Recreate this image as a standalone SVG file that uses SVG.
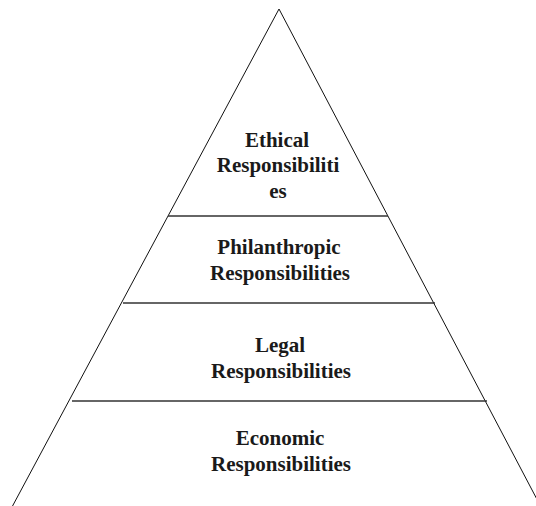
<svg xmlns="http://www.w3.org/2000/svg" width="536" height="506" viewBox="0 0 536 506">
<style>
.edge{fill:none;stroke:#111;stroke-width:1}
.div{stroke:#333;stroke-width:1.6}
.t{font-family:"Liberation Serif","Times New Roman",serif;font-weight:bold;font-size:21px;fill:#1a1a1a;text-anchor:middle}
</style>
<rect width="536" height="506" fill="#fff"/>
<g id="outline">
<polyline class="edge" points="12,507 279,9 541,507"/>
</g>
<g id="connectors">
<line class="div" x1="168" y1="216" x2="388" y2="216"/>
<line class="div" x1="123" y1="303" x2="435" y2="303"/>
<line class="div" x1="72" y1="401" x2="487" y2="401"/>
</g>
<g id="ethical">
<text class="t" x="277" y="147">Ethical</text>
<text class="t" x="278" y="172">Responsibiliti</text>
<text class="t" x="278" y="198">es</text>
</g>
<g id="philanthropic">
<text class="t" x="279" y="254">Philanthropic</text>
<text class="t" x="280" y="280">Responsibilities</text>
</g>
<g id="legal">
<text class="t" x="280" y="352">Legal</text>
<text class="t" x="281" y="378">Responsibilities</text>
</g>
<g id="economic">
<text class="t" x="280" y="445">Economic</text>
<text class="t" x="281" y="471">Responsibilities</text>
</g>
</svg>
